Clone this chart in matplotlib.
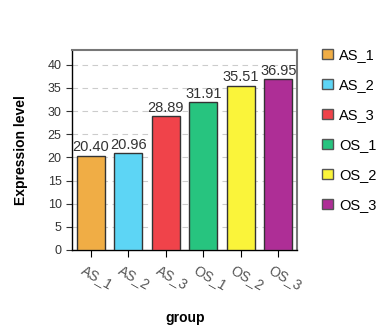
import numpy as np
import matplotlib.pyplot as plt
import matplotlib.transforms as mtransforms
from matplotlib.patches import Patch

plt.rcParams['font.family'] = ['Liberation Sans', 'DejaVu Sans']

groups = ['AS_1', 'AS_2', 'AS_3', 'OS_1', 'OS_2', 'OS_3']
values = [20.40, 20.96, 28.89, 31.91, 35.51, 36.95]
colors = ['#F0AD45', '#5DD5F5', '#F0434A', '#27C47F', '#FAF43A', '#AE2E96']

fig = plt.figure(figsize=(3.77, 3.32), dpi=100)
ax = fig.add_axes([72 / 377, 1 - 250 / 332, 225 / 377, 200 / 332])

x = np.arange(len(groups))
ax.bar(x, values, width=0.75, color=colors, edgecolor='#333333', linewidth=1, zorder=3)
for xi, v in zip(x, values):
    ax.text(xi, v + 0.3, f'{v:.2f}', ha='center', va='bottom', fontsize=10.5, color='#333333')

ax.set_xlim(-0.5, 5.5)
ax.set_ylim(0, 43.2)
ax.set_yticks(np.arange(0, 41, 5))
ax.yaxis.grid(True, linestyle=(0, (5, 4)), color='#cccccc', linewidth=0.8, zorder=0)
ax.set_xticks(x)
ax.set_xticklabels(groups, rotation=-30, ha='left', rotation_mode='anchor',
                   fontsize=10, color='#555555')
ax.tick_params(axis='y', labelsize=9, length=4, colors='#333333')
ax.tick_params(axis='x', length=5, pad=4)
# shift tick labels a little to the left so they start just before the tick
offset = mtransforms.ScaledTranslation(-5 / 100, 0, fig.dpi_scale_trans)
for lbl in ax.get_xticklabels():
    lbl.set_transform(lbl.get_transform() + offset)

for s in ['left', 'bottom']:
    ax.spines[s].set_color('black')
    ax.spines[s].set_linewidth(1)
for s in ['top', 'right']:
    ax.spines[s].set_color('#777777')
    ax.spines[s].set_linewidth(1.5)

ax.set_ylabel('Expression level', fontweight='bold', fontsize=10, labelpad=14)
fig.text(185 / 377, 1 - 318 / 332, 'group', fontweight='bold', fontsize=10,
         ha='center', va='center')

handles = [Patch(facecolor=c, edgecolor='#555555', label=g) for g, c in zip(groups, colors)]
fig.legend(handles=handles, loc='upper left', bbox_to_anchor=(322 / 377, 1 - 48 / 332),
           frameon=False, fontsize=10.5, handlelength=0.75, handleheight=0.75,
           labelspacing=1.1, handletextpad=0.4, borderpad=0, borderaxespad=0)

fig.savefig('out.png', dpi=100)
